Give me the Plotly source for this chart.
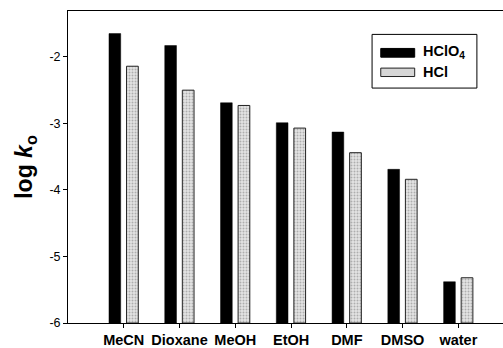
import numpy as np
import plotly.graph_objects as go

solvents = ["MeCN", "Dioxane", "MeOH", "EtOH", "DMF", "DMSO", "water"]
hclo4 = [-1.65, -1.83, -2.69, -2.99, -3.13, -3.69, -5.38]
hcl = [-2.14, -2.50, -2.73, -3.07, -3.44, -3.84, -5.32]
ytick_vals = [-6, -5, -4, -3, -2]
ytick_text = ["-6", "-5", "-4", "-3", "-2"]

base = -6.0
x = np.arange(len(solvents))

fig = go.Figure()
fig.add_trace(go.Bar(
    x=x, y=np.array(hclo4) - base, base=base, name="HClO<sub>4</sub>",
    width=0.21, offset=-0.265,
    marker=dict(color="black", line=dict(color="black", width=0.5)),
    showlegend=False,
))
fig.add_trace(go.Bar(
    x=x, y=np.array(hcl) - base, base=base, name="HCl",
    width=0.21, offset=0.05,
    marker=dict(color="#e4e4e4", line=dict(color="#222", width=1),
                pattern=dict(shape=".", fgcolor="#777", size=3, solidity=0.35)),
    showlegend=False,
))

# legend box (manual, to match wide swatches)
lx0, lx1, ly0, ly1 = 0.699, 0.94, 0.753, 0.925
shapes = [
    dict(type="rect", xref="paper", yref="paper", x0=lx0, x1=lx1, y0=ly0, y1=ly1,
         line=dict(color="black", width=1), fillcolor="white"),
    dict(type="rect", xref="paper", yref="paper", x0=0.719, x1=0.797, y0=0.852, y1=0.880,
         line=dict(color="black", width=1), fillcolor="black"),
    dict(type="rect", xref="paper", yref="paper", x0=0.719, x1=0.797, y0=0.790, y1=0.817,
         line=dict(color="#222", width=1), fillcolor="#d6d6d6"),
]
annotations = [
    dict(text="<b>HClO<sub>4</sub></b>", xref="paper", yref="paper", x=0.812, y=0.870,
         xanchor="left", yanchor="middle", showarrow=False,
         font=dict(family="Liberation Sans, Arial", size=14.5, color="black")),
    dict(text="<b>HCl</b>", xref="paper", yref="paper", x=0.812, y=0.806,
         xanchor="left", yanchor="middle", showarrow=False,
         font=dict(family="Liberation Sans, Arial", size=14.5, color="black")),
]

fig.update_layout(
    width=503, height=348,
    margin=dict(l=68, r=0, t=11, b=23),
    paper_bgcolor="white", plot_bgcolor="white",
    barmode="overlay",
    shapes=shapes, annotations=annotations,
    font=dict(family="Liberation Sans, Arial", color="black"),
    xaxis=dict(
        range=[-1.0, 6.8], tickvals=list(x), ticktext=[f"<b>{s}</b>" for s in solvents],
        ticks="outside", ticklen=4, tickcolor="black",
        showline=True, linecolor="black", linewidth=1, mirror=True,
        showgrid=False, zeroline=False,
        tickfont=dict(size=14.5, family="Liberation Sans, Arial"),
    ),
    yaxis=dict(
        range=[-6, -1.31], tickvals=ytick_vals, ticktext=ytick_text,
        ticks="outside", ticklen=4, tickcolor="black",
        showline=True, linecolor="black", linewidth=1,
        showgrid=False, zeroline=False,
        tickfont=dict(size=12.5, family="Liberation Sans, Arial"),
        title=dict(text="<b>log <i>k</i><sub>o</sub></b>", standoff=10,
                   font=dict(size=23, family="Liberation Sans, Arial")),
    ),
)

fig.write_html("out.html")
